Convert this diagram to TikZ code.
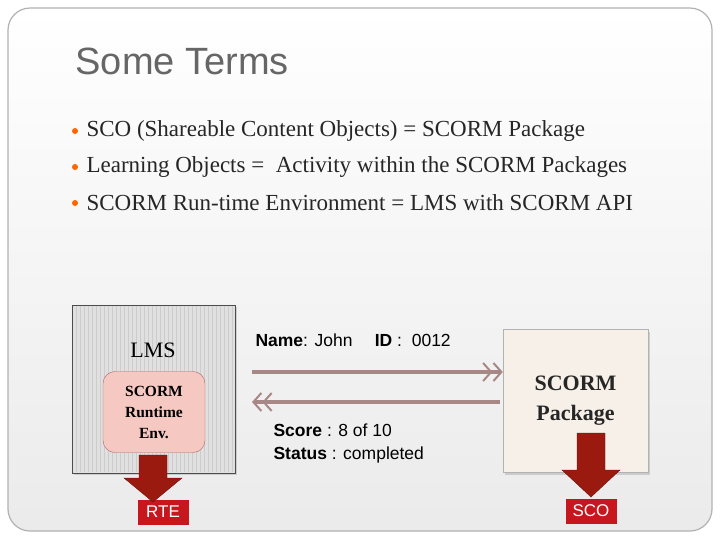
\documentclass[tikz,border=0pt]{standalone}
\usepackage{fontspec}
\setmainfont{Liberation Serif}
\newfontfamily\hd{Liberation Sans}
\usetikzlibrary{arrows.meta,shadows,patterns}
\definecolor{arr}{HTML}{A88886}
\definecolor{dred}{HTML}{9A1A10}
\definecolor{lred}{HTML}{C8161E}
\definecolor{pink}{HTML}{F6C8C2}
\tikzset{
 bul/.style={circle,fill=orange!80!red,inner sep=0pt,minimum size=6pt},
 btxt/.style={anchor=west,font=\fontsize{23}{26}\selectfont,text=black!85},
 flow/.style={draw=arr,line width=3.5pt,-{Straight Barb[length=8pt,width=18pt,line width=2pt]Straight Barb[length=8pt,width=18pt,line width=2pt]}},
 lab/.style={fill=lred,text=white,font=\hd\fontsize{17}{19}\selectfont,minimum width=51pt,minimum height=25pt,inner sep=0pt},
 blk/.style={fill=dred,draw=dred!70!black},
 info/.style={anchor=base west,font=\hd\fontsize{17.5}{20}\selectfont}
}
\begin{document}
\begin{tikzpicture}[x=1pt,y=-1pt]
\useasboundingbox (0,0) rectangle (720,539);
\fill[white] (0,0) rectangle (720,539);
\draw[black!30,line width=1.2pt,rounded corners=22pt,top color=white,bottom color=black!8] (8,8) rectangle (712,531);
\node[anchor=base west,font=\hd\fontsize{38}{42}\selectfont,text=black!60] (title) at (72,74) {Some Terms};
\foreach \y/\t [count=\i] in {131/{SCO (Shareable Content Objects) = SCORM Package},167/{Learning Objects =\ \ Activity within the SCORM Packages},203/{SCORM Run-time Environment = LMS with SCORM API}}{
 \node[bul] (b\i) at (75,\y) {};
 \node[btxt] (t\i) at (83,\y) {\t};
}
% LMS
\node[draw=black!70,fill=black!12,minimum width=163pt,minimum height=168pt,inner sep=0pt,drop shadow={opacity=0.3}] (lms) at (153.5,389) {};
\foreach \x in {76,80,...,232} \draw[black!20,line width=0.8pt] (\x,306) -- (\x,472);
\draw[black!70] (lms.south west) rectangle (lms.north east);
\node[font=\fontsize{22}{24}\selectfont] (lmst) at (153,350) {LMS};
\node[draw=red!45!black!60,fill=pink,rounded corners=12pt,minimum width=102pt,minimum height=81pt,align=center,font=\fontsize{15.5}{21}\selectfont\bfseries,inner sep=0pt] (rte) at (154,412) {SCORM\\Runtime\\Env.};
% SCORM package
\node[draw=black!30,fill=brown!12!white,minimum width=145pt,minimum height=143pt,inner sep=0pt,align=center,font=\fontsize{22}{30}\selectfont\bfseries,text=black!85,drop shadow={opacity=0.3,shadow xshift=2pt,shadow yshift=-2pt}] (pkg) at (575.5,401) {SCORM\\Package};
% flows
\coordinate (a1) at (252,372); \coordinate (a2) at (500,402); \coordinate (a3) at (252,402);
\draw[flow] (a1) -- (a1 -| pkg.west);
\draw[flow] (a2) -- (a3);
\node[info] (nm) at (252,346) {\textbf{Name}: John\quad\ \textbf{ID} :\ \ 0012};
\node[info] (sc) at (270,436) {\textbf{Score} : 8 of 10};
\node[info] (st) at (270,459) {\textbf{Status} : completed};
% labels and block arrows
\node[lab] (rtel) at (163,512) {RTE};
\node[lab] (scol) at (591,511) {SCO};
\fill[blk] (139,455) -- (167,455) -- (167,478) -- (182,478) -- (153,502) -- (124,478) -- (139,478) -- cycle;
\fill[blk] (577,433) -- (605,433) -- (605,470) -- (620,470) -- (591,497) -- (562,470) -- (577,470) -- cycle;
\end{tikzpicture}
\end{document}
